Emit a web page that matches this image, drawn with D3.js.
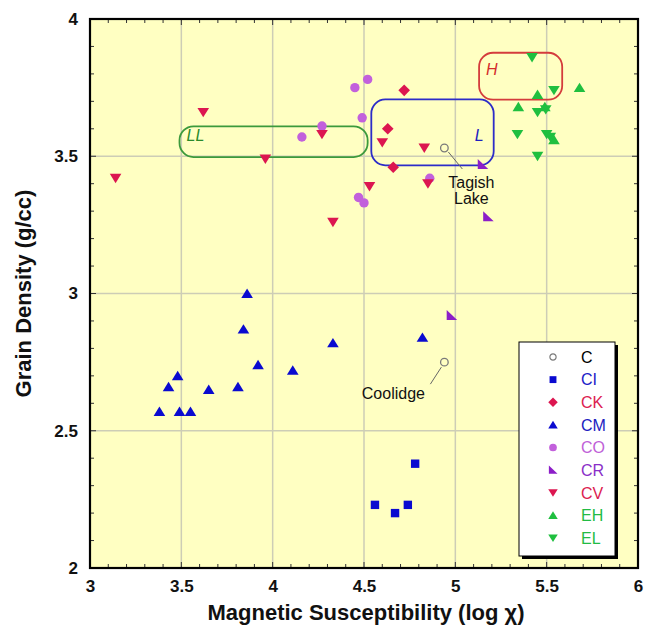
<!DOCTYPE html>
<html>
<head>
<meta charset="utf-8">
<script src="https://cdn.jsdelivr.net/npm/d3@7"></script>
<style>
  html, body { margin: 0; padding: 0; background: #ffffff; }
  svg { display: block; }
  text { font-family: "Liberation Sans", Arial, Helvetica, sans-serif; }
</style>
</head>
<body>
<svg id="chart" width="646" height="627"></svg>
<script>
// ---------- data ----------
const groups = ["C", "CI", "CK", "CM", "CO", "CR", "CV", "EH", "EL"];

const dataC  = [[4.94, 3.53], [4.94, 2.75]];
const dataCI = [[4.56, 2.23], [4.67, 2.20], [4.74, 2.23], [4.78, 2.38]];
const dataCK = [[4.63, 3.60], [4.66, 3.46], [4.72, 3.74]];
const dataCM = [[3.38, 2.57], [3.43, 2.66], [3.48, 2.70], [3.49, 2.57], [3.55, 2.57],
                [3.65, 2.65], [3.81, 2.66], [3.84, 2.87], [3.86, 3.00], [3.92, 2.74],
                [4.11, 2.72], [4.33, 2.82], [4.82, 2.84]];
const dataCO = [[4.16, 3.57], [4.27, 3.61], [4.45, 3.75], [4.47, 3.35], [4.49, 3.64],
                [4.50, 3.33], [4.52, 3.78], [4.86, 3.42]];
const dataCR = [[4.98, 2.92], [5.15, 3.47], [5.18, 3.28]];
const dataCV = [[3.14, 3.42], [3.62, 3.66], [3.96, 3.49], [4.27, 3.58], [4.33, 3.26],
                [4.53, 3.39], [4.60, 3.55], [4.83, 3.53], [4.85, 3.40]];
const dataEH = [[5.345, 3.68], [5.45, 3.725], [5.49, 3.68], [5.54, 3.56], [5.68, 3.75]];
const dataEL = [[5.34, 3.58], [5.42, 3.86], [5.45, 3.50], [5.45, 3.66], [5.495, 3.67],
                [5.50, 3.58], [5.52, 3.57], [5.54, 3.74]];

const seriesData = { C: dataC, CI: dataCI, CK: dataCK, CM: dataCM, CO: dataCO,
                     CR: dataCR, CV: dataCV, EH: dataEH, EL: dataEL };

const xTicks = [3, 3.5, 4, 4.5, 5, 5.5, 6];
const yTicks = [2, 2.5, 3, 3.5, 4];

// ordinary chondrite fields: [label, xMin, xMax, yMin, yMax]
const regions = [["LL", 3.49, 4.52, 3.497, 3.609],
                 ["L", 4.54, 5.21, 3.467, 3.707],
                 ["H", 5.13, 5.585, 3.706, 3.877]];

// annotations: [label lines, x, y]
const annotations = [[["Tagish", "Lake"], 4.94, 3.53], [["Coolidge"], 4.94, 2.75]];

// ---------- styles ----------
const colors = { C: "#7a7a7a", CI: "#0a0ad0", CK: "#dc1650", CM: "#0a0ad0", CO: "#c260dc",
                 CR: "#8c1ec8", CV: "#dc1650", EH: "#1fbf3f", EL: "#1fbf3f" };
const textColors = { C: "#000000", CI: "#2020c8", CK: "#dc2050", CM: "#2020c0", CO: "#c060d8",
                     CR: "#8a2ec8", CV: "#dc2050", EH: "#22bb44", EL: "#22bb44" };
const regionColors = { LL: "#3c9a3c", L: "#2c2cc8", H: "#d43c3c" };
const regionText = { LL: "#2a8a2a", L: "#2020c0", H: "#d42c2c" };

function shapePath(g, s) {
  s = s || 1;
  const p = d3.path();
  switch (g) {
    case "CI": p.rect(-4.2 * s, -4.2 * s, 8.4 * s, 8.4 * s); break;
    case "CK": p.moveTo(0, -5.8 * s); p.lineTo(5.8 * s, 0); p.lineTo(0, 5.8 * s); p.lineTo(-5.8 * s, 0); p.closePath(); break;
    case "CM": case "EH":
      p.moveTo(0, -5 * s); p.lineTo(5.8 * s, 4.4 * s); p.lineTo(-5.8 * s, 4.4 * s); p.closePath(); break;
    case "CV": case "EL":
      p.moveTo(0, 5 * s); p.lineTo(5.8 * s, -4.4 * s); p.lineTo(-5.8 * s, -4.4 * s); p.closePath(); break;
    case "CO": p.arc(0, 0, 4.7 * s, 0, 2 * Math.PI); break;
    case "CR": p.moveTo(-5 * s, -5.5 * s); p.lineTo(-5 * s, 4.5 * s); p.lineTo(5.5 * s, 4.5 * s); p.closePath(); break;
    case "C": p.arc(0, 0, 3.8 * s, 0, 2 * Math.PI); break;
  }
  return p.toString();
}

// ---------- layout ----------
const svg = d3.select("#chart");
const L = 90, R = 638, T = 19, B = 568;

const x = d3.scaleLinear().domain([3, 6]).range([L, R]);
const y = d3.scaleLinear().domain([2, 4]).range([B, T]);

// background
svg.append("rect").attr("x", L).attr("y", T).attr("width", R - L).attr("height", B - T)
  .attr("fill", "#ffffc2");

// grid
const grid = svg.append("g");
grid.selectAll("line.gx").data(xTicks.slice(1, -1)).join("line")
  .attr("x1", d => x(d)).attr("x2", d => x(d)).attr("y1", T).attr("y2", B)
  .attr("stroke", "#cdcdb6").attr("stroke-width", 1.5);
grid.selectAll("line.gy").data(yTicks.slice(1, -1)).join("line")
  .attr("y1", d => y(d)).attr("y2", d => y(d)).attr("x1", L).attr("x2", R)
  .attr("stroke", "#cdcdb6").attr("stroke-width", 1.5);

// axes with inward ticks (minor every 0.1)
const xMinor = d3.range(30, 61).map(v => v / 10);
const yMinor = d3.range(20, 41).map(v => v / 10);
const tickLen = v => (Math.abs(v * 2 - Math.round(v * 2)) < 1e-6 ? 6 : 4);

const ax = svg.append("g").attr("stroke", "#333").attr("stroke-width", 1);
ax.selectAll("line.xb").data(xMinor).join("line")
  .attr("x1", d => x(d)).attr("x2", d => x(d)).attr("y1", B).attr("y2", d => B - tickLen(d));
ax.selectAll("line.xt").data(xMinor).join("line")
  .attr("x1", d => x(d)).attr("x2", d => x(d)).attr("y1", T).attr("y2", d => T + tickLen(d));
ax.selectAll("line.yl").data(yMinor).join("line")
  .attr("y1", d => y(d)).attr("y2", d => y(d)).attr("x1", L).attr("x2", d => L + tickLen(d));
ax.selectAll("line.yr").data(yMinor).join("line")
  .attr("y1", d => y(d)).attr("y2", d => y(d)).attr("x1", R).attr("x2", d => R - tickLen(d));

// tick labels via d3 axes
const xAxis = d3.axisBottom(x).tickValues(xTicks).tickSize(0).tickPadding(9).tickFormat(d3.format("~g"));
const yAxis = d3.axisLeft(y).tickValues(yTicks).tickSize(0).tickPadding(12).tickFormat(d3.format("~g"));
const gx = svg.append("g").attr("transform", `translate(0,${B})`).call(xAxis);
const gy = svg.append("g").attr("transform", `translate(${L},0)`).call(yAxis);
[gx, gy].forEach(g => {
  g.select(".domain").remove();
  g.selectAll("text").attr("font-size", 17).attr("font-weight", "bold").attr("fill", "#111")
    .attr("font-family", "'Liberation Sans', Arial, sans-serif");
});
gx.selectAll("text").attr("dy", "0.9em");

// axis titles
svg.append("text").attr("x", (L + R) / 2 + 2).attr("y", 620).attr("text-anchor", "middle")
  .attr("font-size", 22).attr("font-weight", "bold").attr("fill", "#111")
  .text("Magnetic Susceptibility (log χ)");
svg.append("text").attr("transform", `translate(31,${(T + B) / 2}) rotate(-90)`)
  .attr("text-anchor", "middle").attr("font-size", 22).attr("font-weight", "bold").attr("fill", "#111")
  .text("Grain Density (g/cc)");

// regions
const rg = svg.append("g");
regions.forEach(([name, x0, x1, y0, y1]) => {
  const h = y(y0) - y(y1);
  rg.append("rect").attr("x", x(x0)).attr("y", y(y1)).attr("width", x(x1) - x(x0)).attr("height", h)
    .attr("rx", Math.min(14, h / 2)).attr("ry", Math.min(14, h / 2))
    .attr("fill", "none").attr("stroke", regionColors[name]).attr("stroke-width", 1.8);
});
const rl = [["LL", 3.49, 3.56, "start", 7], ["L", 5.21, 3.56, "end", -10], ["H", 5.13, 3.8, "start", 7]];
rl.forEach(([name, xv, yv, anchor, dx]) => {
  rg.append("text").attr("x", x(xv) + dx).attr("y", y(yv) + 1).attr("text-anchor", anchor)
    .attr("font-size", 16).attr("font-style", "italic").attr("fill", regionText[name]).text(name);
});

// annotations
const an = svg.append("g");
const [tag, cool] = annotations;
an.append("line").attr("x1", x(tag[1]) + 4).attr("y1", y(tag[2]) + 4)
  .attr("x2", x(tag[1]) + 18).attr("y2", y(tag[2]) + 21).attr("stroke", "#666").attr("stroke-width", 1);
tag[0].forEach((t, i) => an.append("text").attr("x", x(tag[1]) + 27).attr("y", y(tag[2]) + 40 + i * 16)
  .attr("text-anchor", "middle").attr("font-size", 16).attr("fill", "#111").text(t));
an.append("line").attr("x1", x(cool[1]) - 3).attr("y1", y(cool[2]) + 5)
  .attr("x2", x(cool[1]) - 14).attr("y2", y(cool[2]) + 22).attr("stroke", "#666").attr("stroke-width", 1);
an.append("text").attr("x", x(cool[1]) - 51).attr("y", y(cool[2]) + 37)
  .attr("text-anchor", "middle").attr("font-size", 16).attr("fill", "#111").text(cool[0][0]);

// points
const pts = svg.append("g");
groups.forEach(g => {
  pts.selectAll(null).data(seriesData[g]).join("path")
    .attr("transform", d => `translate(${x(d[0])},${y(d[1])})`)
    .attr("d", shapePath(g))
    .attr("fill", g === "C" ? "none" : colors[g])
    .attr("stroke", g === "C" ? colors[g] : "none")
    .attr("stroke-width", g === "C" ? 1.3 : 0);
});

// frame
svg.append("rect").attr("x", L).attr("y", T).attr("width", R - L).attr("height", B - T)
  .attr("fill", "none").attr("stroke", "#000").attr("stroke-width", 2.2);

// legend
const lg = svg.append("g").attr("transform", "translate(519,342)");
lg.append("rect").attr("x", 3).attr("y", 3).attr("width", 96).attr("height", 214).attr("fill", "#000");
lg.append("rect").attr("x", 0).attr("y", 0).attr("width", 96).attr("height", 214)
  .attr("fill", "#fff").attr("stroke", "#000").attr("stroke-width", 1);
const rowY = d3.scaleLinear().domain([0, groups.length - 1]).range([15, 196]);
groups.forEach((g, i) => {
  lg.append("path").attr("transform", `translate(34,${rowY(i)})`).attr("d", shapePath(g, 0.82))
    .attr("fill", g === "C" ? "none" : colors[g])
    .attr("stroke", g === "C" ? colors[g] : "none").attr("stroke-width", 1.2);
  lg.append("text").attr("x", 62).attr("y", rowY(i)).attr("dy", "0.36em")
    .attr("font-size", 16).attr("fill", textColors[g]).text(g);
});
</script>
</body>
</html>
